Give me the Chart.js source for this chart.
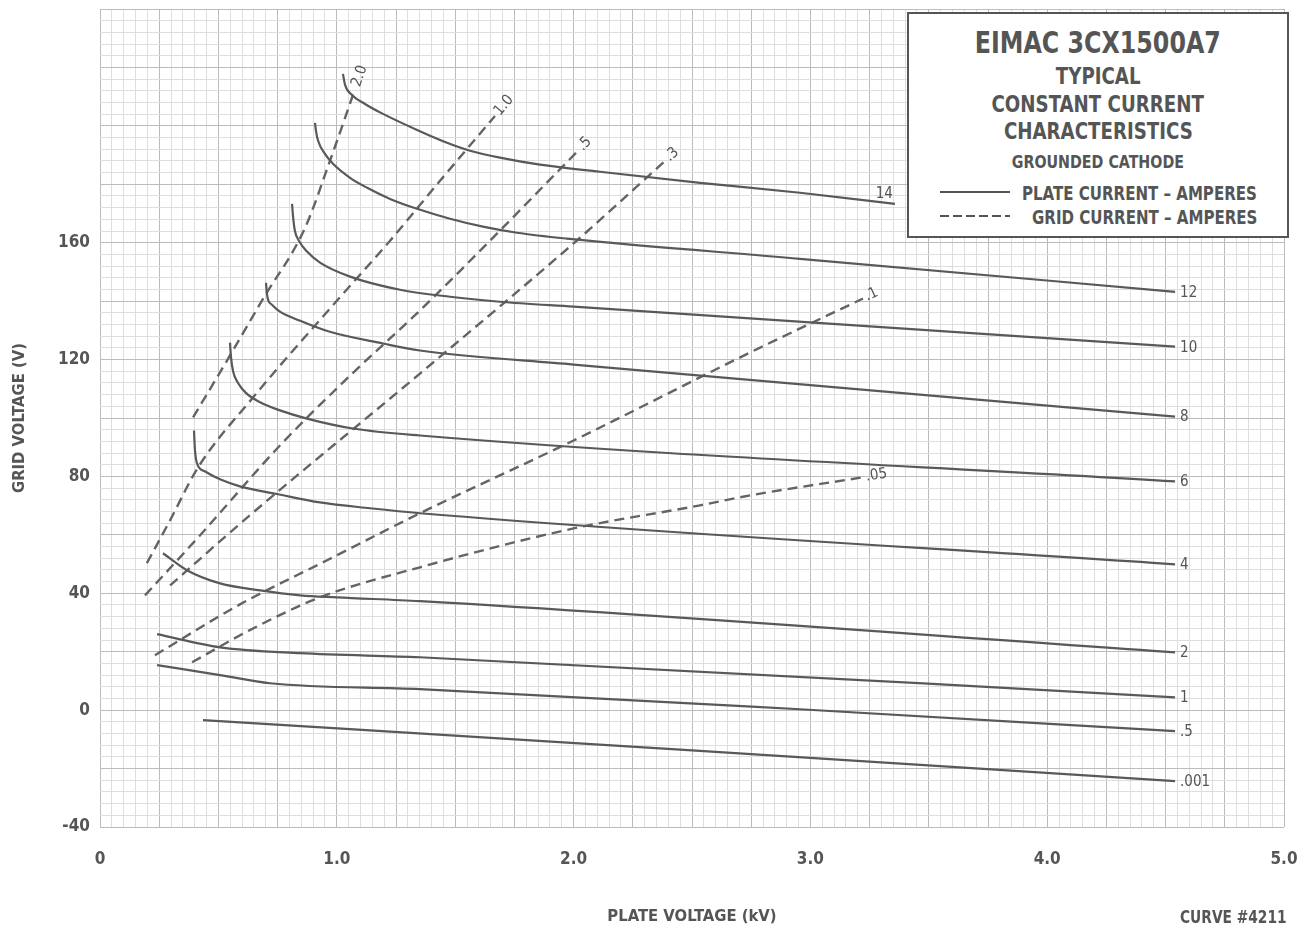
<!DOCTYPE html>
<html>
<head>
<meta charset="utf-8">
<script src="https://cdn.jsdelivr.net/npm/chart.js@4.4.0/dist/chart.umd.min.js"></script>
<style>
    body { margin: 0; background: #fff; }
    #cadre { position: relative; width: 1299px; height: 928px; }
    #boite {
        position: absolute; left: 907px; top: 12px; width: 382px; height: 226px;
        box-sizing: border-box; border: 2px solid #555; background: #fff;
        color: #555; font-family: "Liberation Sans Narrow", "DejaVu Sans Condensed", sans-serif; font-weight: bold;
    }
    #boite .ligne { position: absolute; left: 0; width: 100%; text-align: center; white-space: nowrap; }
    #boite .ligne span { display: inline-block; transform: scaleX(0.88); }
    #boite .trait { position: absolute; left: 31px; width: 70px; height: 2px; }
    #boite .texte { position: absolute; white-space: nowrap; font-size: 19px; line-height: 22px; transform: scaleX(0.88); transform-origin: left center; }
    #courbe {
        position: absolute; left: 1180px; top: 907px; color: #555; font-size: 17px; white-space: nowrap;
        font-family: "Liberation Sans Narrow", "DejaVu Sans Condensed", sans-serif; font-weight: bold;
        transform: scaleX(0.9); transform-origin: left center;
    }
</style>
</head>
<body>
<div id="cadre">
    <canvas id="chartCanvas" width="1299" height="928"></canvas>
    <div id="boite">
        <div class="ligne" style="top:11px; font-size:30px; line-height:36px;"><span>EIMAC 3CX1500A7</span></div>
        <div class="ligne" style="top:48px; font-size:23px; line-height:28px;"><span>TYPICAL</span></div>
        <div class="ligne" style="top:76px; font-size:23px; line-height:28px;"><span>CONSTANT CURRENT</span></div>
        <div class="ligne" style="top:103px; font-size:23px; line-height:28px;"><span>CHARACTERISTICS</span></div>
        <div class="ligne" style="top:137px; font-size:18px; line-height:22px;"><span>GROUNDED CATHODE</span></div>
        <div class="trait" style="top:177px; background:#555;"></div>
        <div class="texte" style="left:113px; top:168px;">PLATE CURRENT – AMPERES</div>
        <div class="trait" style="top:201px; background:repeating-linear-gradient(90deg, #555 0 9px, transparent 9px 13px);"></div>
        <div class="texte" style="left:123px; top:192px;">GRID CURRENT – AMPERES</div>
    </div>
    <div id="courbe">CURVE #4211</div>
</div>
<script>
// Courbes de courant plaque (trait plein) : [tension plaque kV, tension grille V]
const plaque14 = [[1.026, 217.8], [1.035, 214.0], [1.064, 210.6], [1.119, 207.5], [1.195, 204.1], [1.339, 198.6], [1.457, 194.5], [1.563, 191.5], [1.689, 189.1], [1.858, 186.7], [2.111, 184.3], [2.534, 180.5], [2.956, 177.1], [3.357, 173.3]];
const plaque12 = [[0.908, 201.0], [0.912, 198.3], [0.921, 194.9], [0.950, 190.4], [0.984, 187.0], [1.056, 182.2], [1.128, 178.8], [1.225, 175.0], [1.339, 171.6], [1.478, 168.2], [1.617, 165.5], [1.761, 163.4], [1.972, 161.4], [2.956, 154.5], [4.54, 143.2]];
const plaque10 = [[0.811, 173.3], [0.815, 169.2], [0.823, 164.1], [0.840, 160.7], [0.870, 157.3], [0.929, 153.2], [1.056, 148.4], [1.267, 143.9], [1.478, 141.5], [1.689, 139.8], [2.0, 138.1], [4.54, 124.4]];
const plaque8 = [[0.701, 146.3], [0.705, 142.5], [0.711, 140.2], [0.726, 138.8], [0.760, 136.4], [0.845, 133.3], [0.967, 129.6], [1.195, 125.5], [1.351, 123.1], [2.0, 118.3], [4.54, 100.5]];
const plaque6 = [[0.549, 125.8], [0.553, 121.0], [0.562, 116.0], [0.583, 112.0], [0.616, 108.6], [0.676, 105.4], [0.76, 102.6], [0.874, 99.8], [1.068, 96.4], [1.351, 94.0], [4.54, 78.3]];
const plaque4 = [[0.397, 95.7], [0.401, 89.0], [0.410, 84.4], [0.444, 81.7], [0.507, 79.0], [0.591, 76.6], [0.747, 74.0], [0.929, 71.1], [1.14, 69.1], [1.351, 67.4], [4.54, 49.9]];
const plaque2 = [[0.266, 53.7], [0.367, 47.9], [0.507, 43.4], [0.676, 41.0], [0.845, 39.3], [1.0, 38.6], [1.351, 37.3], [4.54, 19.8]];
const plaque1 = [[0.241, 26.0], [0.507, 21.5], [0.845, 19.5], [1.351, 18.1], [4.54, 4.4]];
const plaque05 = [[0.241, 15.4], [0.507, 12.0], [0.718, 9.2], [1.351, 7.2], [2.956, 0.3], [4.54, -7.2]];
const plaque001 = [[0.435, -3.4], [2.5, -13.8], [4.54, -24.3]];

// Courbes de courant grille (pointillés)
const grille20 = [[0.393, 100.2], [0.549, 121.4], [0.684, 140.2], [0.866, 165.1], [0.971, 188.0], [1.077, 212.6]];
const grille10 = [[0.198, 50.3], [0.296, 65.0], [0.414, 83.1], [0.646, 107.0], [1.001, 140.2], [1.225, 160.7], [1.436, 181.2], [1.668, 203.4]];
const grille5 = [[0.19, 39.3], [0.422, 59.8], [0.76, 90.6], [1.056, 114.5], [1.351, 136.8], [1.647, 160.7], [2.019, 191.5]];
const grille3 = [[0.296, 42.7], [0.633, 66.7], [1.351, 115.2], [2.027, 161.7], [2.386, 188.0]];
const grille1 = [[0.232, 18.8], [0.591, 36.2], [0.959, 51.3], [1.351, 67.4], [2.0, 92.3], [2.745, 122.4], [3.222, 140.9]];
const grille05 = [[0.389, 16.4], [0.633, 27.4], [0.929, 38.6], [1.351, 48.9], [2.0, 62.2], [2.534, 70.1], [2.745, 73.5], [3.222, 79.7]];

const courbesPlaque = [plaque14, plaque12, plaque10, plaque8, plaque6, plaque4, plaque2, plaque1, plaque05, plaque001];
const etiquettesPlaque = ['14', '12', '10', '8', '6', '4', '2', '1', '.5', '.001'];
const courbesGrille = [grille20, grille10, grille5, grille3, grille1, grille05];
const etiquettesGrille = ['2.0', '1.0', '.5', '.3', '.1', '.05'];

const ticksX = [0, 1, 2, 3, 4, 5];         // graduations étiquetées en kV
const ticksY = [-40, 0, 40, 80, 120, 160]; // graduations étiquetées en V

const POLICE = '"Liberation Sans Narrow", "DejaVu Sans Condensed", sans-serif';
const GRIS = '#555';

function versPoints(liste) {
    return liste.map(p => ({ x: p[0], y: p[1] }));
}

const datasets = [];
courbesPlaque.forEach((c, i) => {
    datasets.push({
        label: etiquettesPlaque[i],
        data: versPoints(c),
        borderColor: '#595959',
        borderWidth: 2.2,
        pointRadius: 0,
        cubicInterpolationMode: 'monotone',
        dessus: etiquettesPlaque[i] === '14' // l'étiquette 14 est posée au-dessus du bout
    });
});
courbesGrille.forEach((c, i) => {
    datasets.push({
        label: etiquettesGrille[i],
        data: versPoints(c),
        borderColor: '#646464',
        borderWidth: 2.4,
        borderDash: [10, 6],
        pointRadius: 0,
        cubicInterpolationMode: 'monotone',
        pointille: true
    });
});

// Ecrire le numéro de chaque courbe au bout de celle-ci
const etiquettesCourbes = {
    id: 'etiquettesCourbes',
    afterDatasetsDraw(chart) {
        const ctx = chart.ctx;
        chart.data.datasets.forEach((ds, i) => {
            const pts = chart.getDatasetMeta(i).data;
            const fin = pts[pts.length - 1];
            const avant = pts[pts.length - 2];
            ctx.save();
            ctx.font = '15px ' + POLICE;
            ctx.fillStyle = GRIS;
            ctx.textBaseline = 'middle';
            ctx.translate(fin.x, fin.y);
            if (ds.pointille) {
                ctx.rotate(Math.atan2(fin.y - avant.y, fin.x - avant.x));
                ctx.textAlign = 'left';
                ctx.fillText(ds.label, 3, 0);
            } else if (ds.dessus) {
                ctx.textAlign = 'right';
                ctx.fillText(ds.label, -2, -10);
            } else {
                ctx.textAlign = 'left';
                ctx.fillText(ds.label, 5, 1);
            }
            ctx.restore();
        });
    }
};

const ctx = document.getElementById('chartCanvas').getContext('2d');
window.myChart = new Chart(ctx, {
    type: 'line',
    data: { datasets: datasets },
    plugins: [etiquettesCourbes],
    options: {
        responsive: false,
        animation: false,
        devicePixelRatio: 1,
        layout: { padding: { top: 9, right: 15, left: 0, bottom: 0 } },
        plugins: { legend: { display: false }, tooltip: { enabled: false } },
        scales: {
            x: {
                type: 'linear',
                min: 0,
                max: 5,
                afterFit: s => { s.height = 101; s.paddingLeft = 0; s.paddingRight = 0; },
                border: { display: false },
                grid: {
                    drawTicks: false,
                    color: c => Math.round(c.tick.value * 100) % 25 === 0 ? '#bcbcbc' : '#dedede'
                },
                ticks: {
                    stepSize: 0.05,
                    autoSkip: false,
                    maxRotation: 0,
                    padding: 22,
                    color: GRIS,
                    font: { family: POLICE, size: 17, weight: 'bold' },
                    callback: v => {
                        const t = ticksX.find(k => Math.abs(k - v) < 1e-6);
                        if (t === undefined) return '';
                        return t === 0 ? '0' : t.toFixed(1);
                    }
                },
                title: {
                    display: true,
                    text: 'PLATE VOLTAGE (kV)',
                    color: GRIS,
                    font: { family: POLICE, size: 16.5, weight: 'bold' },
                    padding: { top: 0, bottom: 1 }
                }
            },
            y: {
                type: 'linear',
                min: -40,
                max: 240,
                afterFit: s => { s.width = 100; s.paddingTop = 0; s.paddingBottom = 0; },
                border: { display: false },
                grid: {
                    drawTicks: false,
                    color: c => Math.round(c.tick.value) % 20 === 0 ? '#bcbcbc' : '#dedede'
                },
                ticks: {
                    stepSize: 4,
                    autoSkip: false,
                    padding: 10,
                    color: GRIS,
                    font: { family: POLICE, size: 17, weight: 'bold' },
                    callback: v => ticksY.includes(Math.round(v)) && Math.abs(v - Math.round(v)) < 1e-6 ? String(Math.round(v)) : ''
                },
                title: {
                    display: true,
                    text: 'GRID VOLTAGE (V)',
                    color: GRIS,
                    font: { family: POLICE, size: 16.5, weight: 'bold' },
                    padding: { top: 10, bottom: 0 }
                }
            }
        }
    }
});
</script>
</body>
</html>
